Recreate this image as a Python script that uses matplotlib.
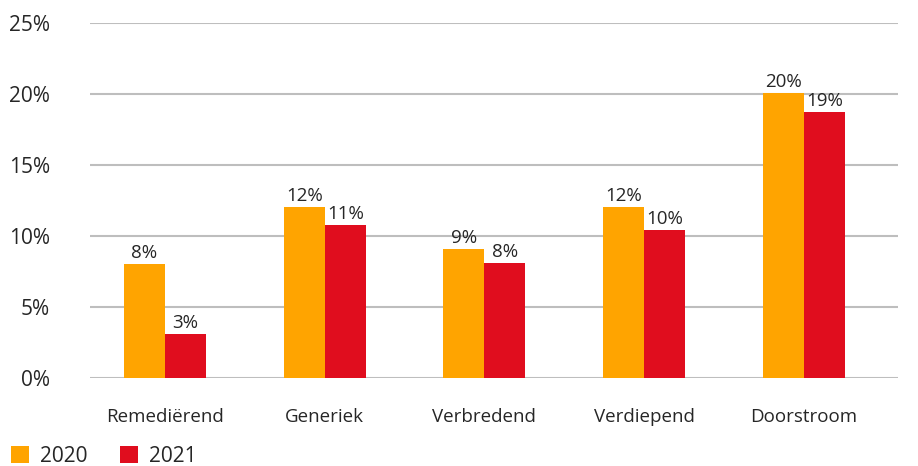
"""Staafdiagram 2020 vs 2021 per categorie."""

import matplotlib

matplotlib.use("Agg")
import matplotlib.pyplot as plt
import numpy as np
from matplotlib.ticker import FuncFormatter

plt.rcParams["font.family"] = ["Open Sans", "DejaVu Sans"]

categories = ["Remediërend", "Generiek", "Verbredend", "Verdiepend", "Doorstroom"]
values_2020 = [8.0, 12.0, 9.06, 12.04, 20.03]
values_2021 = [3.08, 10.75, 8.07, 10.4, 18.73]
labels_2020 = ["8%", "12%", "9%", "12%", "20%"]
labels_2021 = ["3%", "11%", "8%", "10%", "19%"]
series_names = ["2020", "2021"]

colors = ["#FFA400", "#E00D1E"]
text_color = "#262626"

fig = plt.figure(figsize=(9.18, 4.66), dpi=100)
ax = fig.add_axes([90 / 918, (466 - 377.7) / 466, 808 / 918, 355 / 466])

x = np.arange(len(categories))
width = 0.257

bars_a = ax.bar(x - width / 2, values_2020, width, color=colors[0], label=series_names[0], zorder=3)
bars_b = ax.bar(x + width / 2, values_2021, width, color=colors[1], label=series_names[1], zorder=3)

for bars, labels in ((bars_a, labels_2020), (bars_b, labels_2021)):
    for bar, lab in zip(bars, labels):
        ax.annotate(lab, (bar.get_x() + bar.get_width() / 2, bar.get_height()),
                    xytext=(0, 1.5), textcoords="offset points",
                    ha="center", va="bottom", fontsize=13.5, color=text_color)

ax.set_xlim(-0.47, 4.59)
ax.set_ylim(0, 25)
ax.set_yticks([0, 5, 10, 15, 20, 25])
ax.yaxis.set_major_formatter(FuncFormatter(lambda v, _: f"{v:.0f}%"))
ax.set_xticks(x)
ax.set_xticklabels(categories)

ax.grid(axis="y", color="#BEBEBE", linewidth=1.5, zorder=0)
for side in ("top", "right", "left", "bottom"):
    ax.spines[side].set_visible(False)
ax.tick_params(axis="y", length=0, pad=29, labelsize=15, labelcolor=text_color)
ax.tick_params(axis="x", length=0, pad=21.5, labelsize=13.5, labelcolor=text_color)

fig.legend(loc="center left", bbox_to_anchor=(0.012, 0.021), ncol=2, frameon=False,
           fontsize=15, handlelength=0.87, handleheight=0.87, handletextpad=0.53,
           columnspacing=1.54, borderpad=0, borderaxespad=0, labelcolor=text_color)

fig.savefig("out.png", dpi=100)
